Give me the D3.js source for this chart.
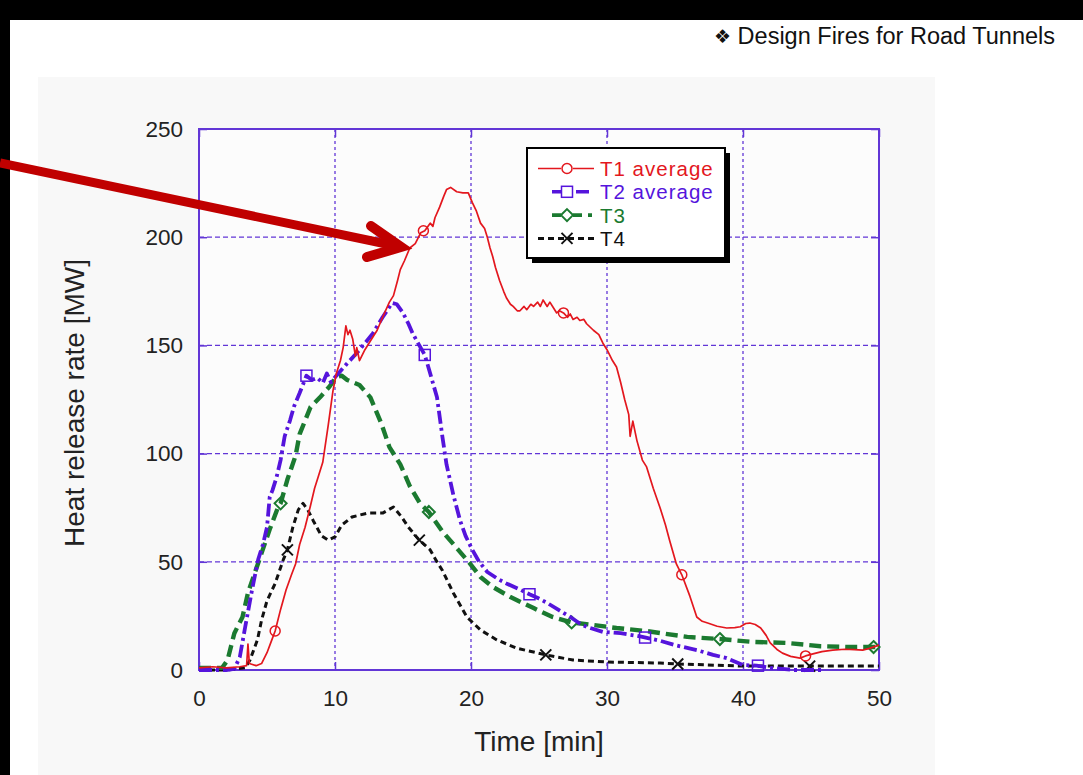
<!DOCTYPE html>
<html>
<head>
<meta charset="utf-8">
<script src="https://cdn.jsdelivr.net/npm/d3@7"></script>
<style>
  html, body { margin: 0; padding: 0; background: #ffffff; }
  svg { display: block; }
  text { font-family: "Liberation Sans", Arial, "DejaVu Sans", sans-serif; }
</style>
</head>
<body>
<svg id="chart" width="1083" height="775"></svg>
<script>
// ---- data -----------------------------------------------------------
const xTicks = [0, 10, 20, 30, 40, 50];
const yTicks = [0, 50, 100, 150, 200, 250];
const seriesNames = ["T1 average", "T2 average", "T3", "T4"];

// Heat release rate [MW] versus time [min]
const t1 = [[0,1],[1,1.5],[2,1],[3,1.5],[3.5,2],[3.6,12],[3.7,3],[4.2,2],[4.6,3],[5.0,8],[5.3,13],[5.6,18],[6.0,28],[6.4,37],[6.8,44],[7.1,49],[7.4,58],[7.8,66],[8.2,76],[8.5,84],[8.75,89],[9.1,96],[9.5,113],[9.85,129],[10.1,137],[10.4,143],[10.6,149],[10.8,159],[10.95,155],[11.1,157],[11.3,153],[11.5,145],[11.6,149],[11.8,143],[12.2,148],[12.6,152],[13.1,157],[13.5,163],[14.0,170],[14.3,173],[14.6,180],[14.8,185],[15.1,189],[15.5,195],[15.9,197],[16.3,202],[16.6,203],[17.0,206.5],[17.2,205],[17.35,209],[17.7,214],[18.0,219],[18.2,222],[18.5,223],[18.95,221],[19.4,220.5],[19.8,220.5],[20.1,216],[20.4,212],[20.7,206.5],[21.0,204],[21.2,200],[21.4,195],[21.6,191],[21.8,186],[22.1,180],[22.4,175],[22.6,172],[22.9,169],[23.1,168],[23.4,166],[23.6,166],[23.9,168],[24.1,166.5],[24.4,169],[24.6,168],[24.9,170],[25.1,168],[25.3,171],[25.6,168],[25.8,170],[26.0,168],[26.3,165],[26.5,166],[26.8,165],[27.1,163],[27.3,164.5],[27.5,162],[27.8,163],[28.0,161.5],[28.3,162],[28.5,160],[29.0,157],[29.4,155],[29.7,151],[30.0,148],[30.4,143],[30.7,140],[31.0,133],[31.3,125],[31.6,118],[31.7,108],[31.9,115],[32.2,106],[32.6,97],[32.9,94],[33.4,84],[33.9,75],[34.3,67],[34.6,60],[35.1,49],[35.5,44],[36.1,34],[36.6,24.5],[37.0,22.5],[37.4,21.7],[38.1,20.2],[38.8,19.4],[39.4,19.6],[39.8,20],[40.2,21.5],[40.5,21.7],[40.9,21],[41.3,19.4],[41.7,16],[42.0,12.5],[42.5,9.5],[42.9,7.8],[43.5,6.3],[44.2,5.5],[44.6,6.5],[45.0,7.2],[45.8,8.5],[46.6,9.2],[47.5,9.6],[48.2,9.4],[48.8,9.2],[49.3,10],[50,11.5]];

const t2 = [[0,0],[1,0],[2,0],[2.6,0.5],[3.0,6],[3.4,20],[3.9,37],[4.35,51],[4.7,58],[5.0,66],[5.2,80],[5.4,83],[5.7,89],[6.0,97],[6.3,108],[6.7,115.5],[7.0,122],[7.4,128],[7.9,136],[8.3,134],[8.7,135],[9.1,132.6],[9.4,137],[9.7,133],[10.1,136],[10.8,141],[11.6,146.5],[12.2,151],[12.8,155.7],[13.5,163],[14.2,169.6],[14.55,169],[15.0,165],[15.4,160],[15.7,155.7],[16.2,150],[16.6,145.6],[17.0,137],[17.5,126],[17.9,107.7],[18.2,95],[18.7,81],[19.2,69],[19.6,62],[20.1,55.5],[20.6,50],[21.2,45.3],[22.0,42],[22.6,40],[23.5,37.5],[24.3,35],[25.0,33],[25.6,31],[26.5,27.5],[27.3,24.5],[28.0,21.5],[28.5,19.9],[29.7,17.6],[31.0,17],[32.0,16],[32.6,15.3],[33.9,13.5],[35.0,11.5],[36.6,9.2],[37.8,7],[38.8,5.5],[40.0,2.3],[41.0,2],[42.0,1],[43.7,0],[46,0]];

const t3 = [[0,1],[1,1],[1.7,1],[2.1,4.6],[2.6,17],[3.2,24.5],[3.6,35.6],[4.1,44.8],[4.6,54],[5.2,65],[5.8,75],[6.0,77],[6.5,88],[7.1,99],[7.4,109],[8.2,121.5],[8.9,126],[9.6,131],[10.1,135.4],[10.5,136],[10.9,134],[11.8,131.7],[12.6,126],[13.4,114],[14.0,103],[14.8,95],[15.5,85],[16.25,77],[16.9,73],[17.9,64],[19.0,56],[19.9,49.4],[20.7,43],[21.6,38.4],[22.9,33.7],[24.6,28.6],[26.0,24.5],[27.4,22],[29.0,20.8],[30.7,19.4],[32.9,18],[35.9,15.3],[38.3,14.3],[40.7,13],[43.2,12.5],[45.7,11],[48.1,10.6],[50,10.6]];

const t4 = [[0,0],[2.1,0],[3.4,1],[3.75,4.6],[4.3,14],[4.6,23],[5.0,32],[5.6,40],[6.2,51],[6.5,55.5],[6.9,66],[7.3,74],[7.65,77],[8.0,74],[8.4,69],[9.0,62],[9.5,60],[10.0,61.5],[10.5,67],[11.25,70.7],[12.4,72.5],[13.5,72.5],[14.3,75.3],[14.9,70.7],[15.4,66],[16.2,60],[17.0,55.5],[17.4,51],[17.9,46],[18.7,35.6],[19.7,24.5],[20.7,18.5],[21.9,13.9],[23.4,10],[25.5,7],[27.5,4.6],[30,3.7],[33.9,3.2],[35.2,2.8],[40,1.8],[44.9,1.8],[50,1.8]];

// symbol positions along each curve
const t1Markers = [[5.6,18],[16.5,203],[26.8,165],[35.5,44],[44.6,6.5]];
const t2Markers = [[7.9,136],[16.6,145.6],[24.3,35],[32.8,15],[41.1,2]];
const t3Markers = [[6.0,77],[16.9,73],[27.4,22],[38.3,14.3],[49.6,10.6]];
const t4Markers = [[6.5,55.5],[16.2,60],[25.5,7],[35.2,2.8],[44.9,1.8]];

// ---- layout ---------------------------------------------------------
const svg = d3.select("#chart");
const x = d3.scaleLinear().domain([0, 50]).range([199, 879]);
const y = d3.scaleLinear().domain([0, 250]).range([670, 129]);
const frameColor = "#6236d6";

// slide background and panel
svg.append("rect").attr("x", 0).attr("y", 0).attr("width", 1083).attr("height", 775).attr("fill", "#ffffff");
svg.append("rect").attr("x", 38).attr("y", 77).attr("width", 897).attr("height", 698).attr("fill", "#f8f8f8");
svg.append("rect").attr("x", 0).attr("y", 0).attr("width", 1083).attr("height", 20).attr("fill", "#000");
svg.append("rect").attr("x", 0).attr("y", 0).attr("width", 10).attr("height", 775).attr("fill", "#000");

const title = svg.append("text")
  .attr("x", 1055).attr("y", 44)
  .attr("text-anchor", "end")
  .attr("font-size", 23.5)
  .attr("fill", "#111");
title.append("tspan").attr("font-size", 19).attr("dy", -1).text("\u2756");
title.append("tspan").attr("dy", 1).text(" Design Fires for Road Tunnels");

// plot background
svg.append("rect")
  .attr("x", x(0)).attr("y", y(250))
  .attr("width", x(50) - x(0)).attr("height", y(0) - y(250))
  .attr("fill", "#fcfcfc");

// grid
const grid = svg.append("g");
grid.selectAll("line.v").data(xTicks.slice(1, -1)).join("line")
  .attr("x1", d => x(d)).attr("x2", d => x(d))
  .attr("y1", y(250)).attr("y2", y(0))
  .attr("stroke", frameColor).attr("stroke-width", 1.3)
  .attr("stroke-dasharray", "3,3");
grid.selectAll("line.h").data(yTicks.slice(1, -1)).join("line")
  .attr("x1", x(0)).attr("x2", x(50))
  .attr("y1", d => y(d)).attr("y2", d => y(d))
  .attr("stroke", frameColor).attr("stroke-width", 1.3)
  .attr("stroke-dasharray", "5,3");

// axes (inward ticks)
const axisFont = 22.5;
const xAxis = svg.append("g").attr("transform", `translate(0,${y(0)})`)
  .call(d3.axisBottom(x).tickValues(xTicks).tickSize(-8).tickPadding(20).tickFormat(d3.format("d")));
const yAxis = svg.append("g").attr("transform", `translate(${x(0)},0)`)
  .call(d3.axisLeft(y).tickValues(yTicks).tickSize(-8).tickPadding(16).tickFormat(d3.format("d")));
svg.append("g").attr("transform", `translate(0,${y(250)})`)
  .call(d3.axisTop(x).tickValues(xTicks).tickSize(-8).tickFormat(""));
svg.append("g").attr("transform", `translate(${x(50)},0)`)
  .call(d3.axisRight(y).tickValues(yTicks).tickSize(-8).tickFormat(""));
svg.selectAll(".domain").remove();
svg.selectAll(".tick line").attr("stroke", frameColor).attr("stroke-width", 1.5);
[xAxis, yAxis].forEach(a => a.selectAll("text")
  .attr("font-size", axisFont)
  .attr("font-family", "'Liberation Sans', Arial, sans-serif")
  .attr("fill", "#222"));

// frame
svg.append("rect")
  .attr("x", x(0)).attr("y", y(250))
  .attr("width", x(50) - x(0)).attr("height", y(0) - y(250))
  .attr("fill", "none").attr("stroke", frameColor).attr("stroke-width", 2);

// axis titles
svg.append("text")
  .attr("transform", `translate(84,403) rotate(-90)`)
  .attr("text-anchor", "middle")
  .attr("font-size", 28).attr("fill", "#222")
  .text("Heat release rate [MW]");
svg.append("text")
  .attr("x", 539).attr("y", 751)
  .attr("text-anchor", "middle")
  .attr("font-size", 28).attr("fill", "#222")
  .text("Time [min]");

// ---- series -----------------------------------------------------------
const styles = [
  { data: t1, marks: t1Markers, color: "#e3171e", width: 1.7, dash: null, symbol: "circle" },
  { data: t2, marks: t2Markers, color: "#5514dc", width: 3.8, dash: "13,4,3,4", symbol: "square" },
  { data: t3, marks: t3Markers, color: "#1b7a30", width: 4.4, dash: "12,6", symbol: "diamond" },
  { data: t4, marks: t4Markers, color: "#111111", width: 3, dash: "6,4", symbol: "cross" }
];

const line = d3.line().x(d => x(d[0])).y(d => y(d[1]));
const plot = svg.append("g");

function drawSymbol(g, kind, cx, cy, color) {
  if (kind === "circle") {
    g.append("circle").attr("cx", cx).attr("cy", cy).attr("r", 5)
      .attr("fill", "none").attr("stroke", color).attr("stroke-width", 1.5);
  } else if (kind === "square") {
    g.append("rect").attr("x", cx - 5.5).attr("y", cy - 5.5).attr("width", 11).attr("height", 11)
      .attr("fill", "none").attr("stroke", color).attr("stroke-width", 1.5);
  } else if (kind === "diamond") {
    g.append("path").attr("d", `M${cx},${cy - 6}L${cx + 6},${cy}L${cx},${cy + 6}L${cx - 6},${cy}Z`)
      .attr("fill", "none").attr("stroke", color).attr("stroke-width", 2);
  } else {
    g.append("path").attr("d", `M${cx - 5.5},${cy - 5.5}L${cx + 5.5},${cy + 5.5}M${cx - 5.5},${cy + 5.5}L${cx + 5.5},${cy - 5.5}`)
      .attr("fill", "none").attr("stroke", color).attr("stroke-width", 2);
  }
}

// draw back-to-front: T4, T3, T2, T1
[3, 2, 1, 0].forEach(i => {
  const s = styles[i];
  plot.append("path")
    .datum(s.data)
    .attr("d", line)
    .attr("fill", "none")
    .attr("stroke", s.color)
    .attr("stroke-width", s.width)
    .attr("stroke-linejoin", "round")
    .attr("stroke-dasharray", s.dash);
  const mg = plot.append("g");
  s.marks.forEach(m => drawSymbol(mg, s.symbol, x(m[0]), y(m[1]), s.color));
});

// ---- legend -----------------------------------------------------------
const lg = svg.append("g");
lg.append("rect").attr("x", 532).attr("y", 153).attr("width", 198).attr("height", 110).attr("fill", "#000");
lg.append("rect").attr("x", 527).attr("y", 148).attr("width", 198).attr("height", 110)
  .attr("fill", "#ffffff").attr("stroke", "#000").attr("stroke-width", 2);

const legendRows = [
  { x1: 538, x2: 594 },
  { x1: 552, x2: 592 },
  { x1: 552, x2: 592 },
  { x1: 538, x2: 594 }
];
seriesNames.forEach((name, i) => {
  const s = styles[i];
  const ry = 168.5 + i * 23.3;
  const r = legendRows[i];
  lg.append("line")
    .attr("x1", r.x1).attr("x2", r.x2).attr("y1", ry).attr("y2", ry)
    .attr("stroke", s.color).attr("stroke-width", Math.min(s.width, 3.6))
    .attr("stroke-dasharray", s.dash);
  if (s.symbol !== "cross") {
    lg.append("rect").attr("x", 561).attr("y", ry - 6).attr("width", 12).attr("height", 12).attr("fill", "#ffffff");
  }
  drawSymbol(lg, s.symbol, 567, ry, s.color);
  lg.append("text")
    .attr("x", 600).attr("y", ry + 7.5)
    .attr("font-size", 20.5)
    .attr("letter-spacing", 1)
    .attr("fill", i === 3 ? "#111" : s.color)
    .text(name);
});

// ---- callout arrow ----------------------------------------------------
const arrowColor = "#c00000";
svg.append("line")
  .attr("x1", 0).attr("y1", 163).attr("x2", 396).attr("y2", 246)
  .attr("stroke", arrowColor).attr("stroke-width", 9);
svg.append("path")
  .attr("d", "M371,226L401,247L367,257")
  .attr("fill", "none").attr("stroke", arrowColor).attr("stroke-width", 10)
  .attr("stroke-linejoin", "miter").attr("stroke-linecap", "round");
</script>
</body>
</html>
